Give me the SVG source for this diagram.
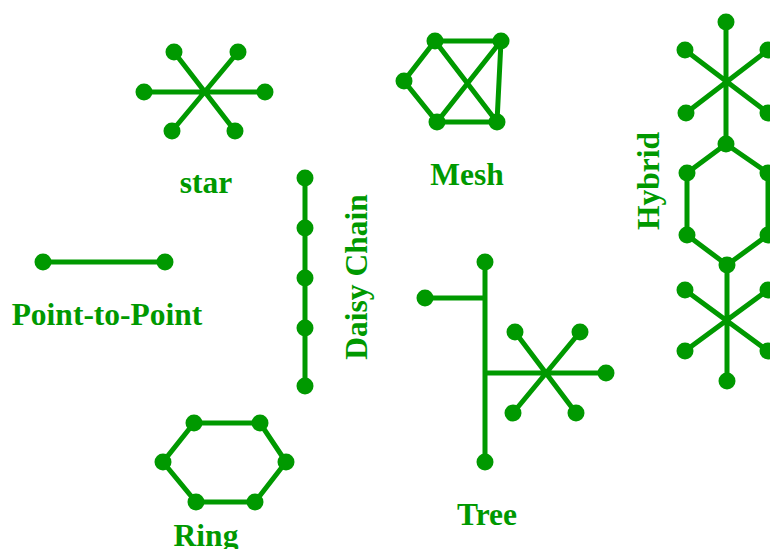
<svg xmlns="http://www.w3.org/2000/svg" width="770" height="549" viewBox="0 0 770 549">
<style>
.e{stroke:#009900;stroke-width:5;fill:none;stroke-linecap:round}
.n{fill:#009900}
.t{font-family:"Liberation Serif","Times New Roman",serif;font-weight:bold;font-size:31.5px;fill:#009900;text-anchor:middle}
</style>
<defs>
<circle id="dot" r="8.5" class="n"/>
</defs>
<rect width="770" height="549" fill="#ffffff"/>
<g id="connectors">
<path class="e" d="M144 92H265M174 52L235 131M238 52L172 131"/>
<path class="e" d="M435 41H501L497 122H437L404 81Z M435 41L497 122M501 41L437 122"/>
<path class="e" d="M43 262H165"/>
<path class="e" d="M305 178V386"/>
<path class="e" d="M485 262V462M425 298H485M485 373H606M515 332L576 413M580 332L513 413"/>
<path class="e" d="M194 423H260L286 462L255 502H196L163 462Z"/>
<path class="e" d="M726 22V144M685 50L768 113M768 50L686 113"/>
<path class="e" d="M726 144L768 173V235L727 265L687 235V173Z"/>
<path class="e" d="M727 265V381M685 290L768 351M768 290L685 351"/>
</g>
<g id="star">
<use href="#dot" x="174" y="52"/><use href="#dot" x="238" y="52"/>
<use href="#dot" x="144" y="92"/><use href="#dot" x="265" y="92"/>
<use href="#dot" x="172" y="131"/><use href="#dot" x="235" y="131"/>
<text class="t" x="206" y="193">star</text>
</g>
<g id="mesh">
<use href="#dot" x="435" y="41"/><use href="#dot" x="501" y="41"/>
<use href="#dot" x="404" y="81"/>
<use href="#dot" x="437" y="122"/><use href="#dot" x="497" y="122"/>
<text class="t" x="467" y="185">Mesh</text>
</g>
<g id="point-to-point">
<use href="#dot" x="43" y="262"/><use href="#dot" x="165" y="262"/>
<text class="t" x="107" y="325">Point-to-Point</text>
</g>
<g id="daisy-chain">
<use href="#dot" x="305" y="178"/><use href="#dot" x="305" y="228"/>
<use href="#dot" x="305" y="278"/><use href="#dot" x="305" y="328"/>
<use href="#dot" x="305" y="386"/>
<text class="t" transform="translate(367 277) rotate(-90)">Daisy Chain</text>
</g>
<g id="tree">
<use href="#dot" x="485" y="262"/><use href="#dot" x="425" y="298"/>
<use href="#dot" x="485" y="462"/><use href="#dot" x="606" y="373"/>
<use href="#dot" x="515" y="332"/><use href="#dot" x="580" y="332"/>
<use href="#dot" x="513" y="413"/><use href="#dot" x="576" y="413"/>
<text class="t" x="487" y="525">Tree</text>
</g>
<g id="ring">
<use href="#dot" x="194" y="423"/><use href="#dot" x="260" y="423"/>
<use href="#dot" x="163" y="462"/><use href="#dot" x="286" y="462"/>
<use href="#dot" x="196" y="502"/><use href="#dot" x="255" y="502"/>
<text class="t" x="206" y="546">Ring</text>
</g>
<g id="hybrid">
<use href="#dot" x="726" y="22"/>
<use href="#dot" x="685" y="50"/><use href="#dot" x="768" y="50"/>
<use href="#dot" x="686" y="113"/><use href="#dot" x="768" y="113"/>
<use href="#dot" x="726" y="144"/>
<use href="#dot" x="687" y="173"/><use href="#dot" x="768" y="173"/>
<use href="#dot" x="687" y="235"/><use href="#dot" x="768" y="235"/>
<use href="#dot" x="727" y="265"/>
<use href="#dot" x="685" y="290"/><use href="#dot" x="768" y="290"/>
<use href="#dot" x="685" y="351"/><use href="#dot" x="768" y="351"/>
<use href="#dot" x="727" y="381"/>
<text class="t" transform="translate(659 181) rotate(-90)">Hybrid</text>
</g>
</svg>
